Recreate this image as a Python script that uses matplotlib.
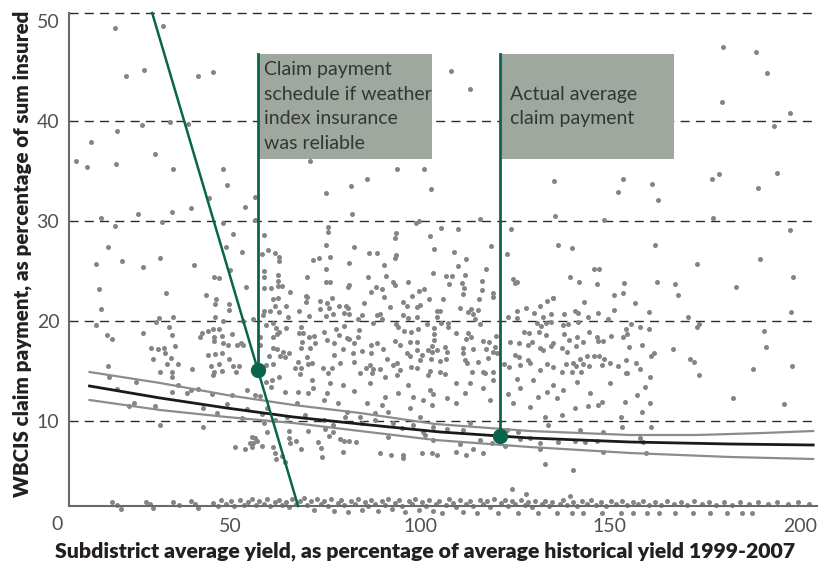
import matplotlib.pyplot as plt
from matplotlib.patches import Rectangle

# scattered subdistrict observations (yield %, claim %)
cloud = [
    (19.7,49.3),(32.3,49.5),(22.6,44.5),(27.4,45.1),(41.6,44.5),(45.4,44.9),(108.2,45.0),(113.2,43.2),
    (26.8,39.6),(34.2,39.9),(38.9,39.7),(20.2,39.0),(13.4,37.9),(30.2,36.7),(9.5,36.0),(12.4,35.4),
    (20.0,35.7),(35.1,35.2),(48.1,35.2),(71.0,36.0),(93.9,35.2),(101.0,35.2),(49.1,33.6),(44.5,32.3),
    (56.6,32.4),(179.8,47.4),(188.4,46.9),(191.3,44.8),(179.5,41.9),(197.5,40.8),(193.2,39.5),(135.3,34.0),
    (153.4,34.2),(152.1,32.9),(161.0,33.7),(176.8,34.2),(178.7,34.7),(194.0,34.8),(189.0,33.3),
    (53.8,31.4),(39.7,31.3),(34.7,30.9),(25.7,30.7),(15.9,30.3),(19.6,29.5),(32.1,29.9),(48.1,29.8),
    (56.6,30.1),(50.9,28.7),(58.9,28.6),(17.8,27.4),(48.8,27.4),(53.1,26.9),(58.4,26.7),(60.0,27.1),
    (61.8,26.8),(63.0,26.4),(63.0,26.0),(14.7,25.7),(21.6,26.0),(27.0,25.4),(31.6,26.3),(40.6,25.6),
    (50.0,25.1),(58.8,25.0),(58.8,24.4),(45.9,24.4),(47.0,24.3),(62.5,24.6),(62.5,24.0),(70.2,24.4),
    (15.4,23.2),(33.2,22.8),(54.2,23.4),(58.9,23.3),(60.8,23.3),(62.5,23.5),(63.6,23.5),(65.8,22.9),
    (43.7,22.6),(46.3,22.2),(46.1,21.7),(49.8,21.7),(61.4,22.2),(62.5,22.3),(70.2,22.4),(15.9,21.2),
    (49.8,21.1),(58.8,21.0),(60.5,21.0),(61.8,21.5),(63.0,20.9),(64.7,21.5),(68.2,21.0),(70.0,21.9),
    (46.1,20.4),(48.1,20.0),(53.3,20.0),(56.0,20.2),(58.6,20.6),(65.3,20.4),(31.4,20.3),(34.9,20.4),
    (30.4,19.9),(14.6,19.6),(34.0,19.4),(59.5,19.6),(61.4,19.8),(62.1,19.3),(64.6,19.3),(68.6,19.4),
    (45.6,19.2),(47.1,19.2),(44.3,19.0),(42.5,18.8),(63.0,18.9),(27.2,18.8),(50.6,18.7),(62.3,18.7),
    (68.2,18.8),(17.6,18.6),(34.6,18.6),(42.1,18.4),(45.9,18.4),(47.8,18.5),(57.9,18.4),(61.4,18.4),
    (19.0,18.2),(45.8,18.0),(48.1,17.8),(49.4,17.6),(51.8,17.6),(52.9,17.8),(53.3,17.6),(57.9,17.6),
    (35.5,17.5),(68.9,17.9),(70.9,18.4),(29.2,17.3),(31.1,17.2),(32.7,17.3),(32.9,16.8),(61.2,17.3),
    (62.3,17.2),(63.9,16.9),(65.6,16.8),(68.6,17.3),(29.6,16.2),(34.5,16.3),(44.3,16.6),(46.1,16.7),
    (47.8,16.8),(49.8,16.2),(60.3,16.5),(63.2,16.5),(64.5,16.4),(17.8,15.5),(33.3,15.7),(36.4,15.7),
    (45.0,15.5),(47.2,15.7),(50.7,15.5),(52.4,15.5),(59.5,15.6),(61.4,15.7),(68.0,15.9),(70.6,15.7),
    (31.6,14.9),(34.8,14.9),(40.1,15.2),(45.8,14.9),(47.8,15.0),(51.5,14.9),(67.1,15.3),(68.7,15.3),
    (75.3,32.8),(81.8,33.5),(86.0,34.2),(102.8,33.2),(82.0,30.7),(115.8,30.2),(98.9,29.8),(99.8,30.0),
    (75.7,29.4),(75.7,28.9),(93.7,28.8),(93.4,28.3),(105.6,29.3),(110.0,29.2),(102.6,28.5),(75.3,27.6),
    (82.7,27.4),(118.7,27.5),(103.8,27.2),(86.7,26.8),(88.6,26.8),(108.9,26.9),(76.3,26.4),(71.9,26.1),
    (73.4,26.3),(93.6,26.6),(93.4,26.3),(112.1,26.2),(81.4,25.8),(90.4,25.6),(109.9,25.5),(75.2,25.2),
    (117.5,25.2),(103.3,24.8),(86.2,24.4),(91.0,24.5),(106.8,24.5),(108.4,24.5),(111.8,24.6),(75.3,23.9),
    (76.3,23.9),(81.3,23.6),(81.0,23.4),(93.0,23.9),(93.4,23.6),(96.9,23.9),(107.5,23.7),(111.1,23.8),
    (111.7,23.3),(116.2,24.0),(88.4,23.4),(89.9,23.2),(87.1,22.9),(99.7,23.0),(101.1,23.2),(97.9,22.5),
    (111.2,22.7),(116.2,23.1),(119.3,22.8),(119.3,22.4),(69.9,22.5),(76.8,22.3),(90.6,22.4),(102.4,22.2),
    (106.0,22.2),(115.5,22.2),(73.7,22.0),(75.4,21.8),(78.7,21.5),(80.4,21.5),(85.3,21.8),(95.4,21.9),
    (96.5,21.5),(99.1,21.4),(100.0,21.6),(92.1,21.4),(110.5,21.3),(113.3,21.2),(115.3,21.1),(73.7,21.2),
    (76.1,21.3),(81.0,21.3),(80.0,20.8),(81.3,20.7),(77.2,20.7),(75.3,20.5),(70.9,20.5),(84.7,20.6),
    (88.8,20.6),(89.5,20.7),(89.9,20.2),(95.4,20.6),(96.9,20.3),(99.1,20.4),(104.6,21.0),(105.3,21.0),
    (104.4,20.4),(112.7,20.9),(113.9,20.7),(83.6,20.2),(93.7,19.7),(94.1,19.4),(87.7,19.8),(80.1,19.5),
    (77.9,19.2),(84.0,19.1),(95.9,19.0),(97.6,18.9),(99.6,19.2),(101.8,19.7),(103.8,19.3),(105.5,19.8),
    (107.3,19.8),(107.3,19.4),(114.5,20.2),(115.8,19.7),(109.5,18.8),(112.7,18.8),(113.3,18.4),(112.1,18.2),
    (120.0,18.5),(69.1,18.8),(72.2,18.5),(74.6,18.9),(75.4,18.1),(78.8,18.6),(80.7,18.3),(81.4,18.2),
    (83.6,18.4),(93.4,18.0),(97.4,17.9),(99.3,17.9),(103.8,18.7),(103.8,18.1),(116.7,18.0),(118.2,17.9),
    (72.4,17.8),(77.4,17.8),(82.7,17.8),(88.6,17.8),(87.1,17.6),(94.7,17.6),(103.1,17.5),(106.6,17.4),
    (111.2,17.3),(71.1,17.3),(79.6,17.2),(84.8,17.0),(90.2,17.2),(99.1,17.1),(102.2,17.1),(104.4,17.1),
    (114.0,17.2),(117.5,17.2),(119.7,17.4),(77.4,16.6),(82.3,16.8),(87.1,16.8),(96.5,16.8),(97.4,16.5),
    (100.4,16.6),(103.1,16.9),(107.0,16.9),(111.2,16.8),(119.3,16.9),(120.2,16.8),(70.2,16.4),(71.5,15.8),
    (74.4,15.3),(76.8,15.3),(78.9,15.8),(82.5,15.9),(85.8,15.3),(86.8,15.6),(87.5,15.2),(91.4,16.2),
    (92.8,15.6),(93.9,15.8),(97.6,15.4),(100.0,16.1),(102.8,16.2),(105.3,16.0),(106.8,16.2),(111.8,16.1),
    (112.3,15.8),(115.3,15.9),(118.0,16.3),(89.5,15.2),(94.7,15.1),(99.1,15.3),(102.6,15.0),(105.3,14.9),
    (113.6,14.9),(116.5,14.9),(119.3,14.9),
    (122.8,26.7),(123.9,29.2),(135.5,30.5),(136.2,27.6),(124.6,24.2),(125.6,23.9),(125.0,23.8),(125.4,21.0),
    (127.9,21.3),(131.6,21.5),(133.3,22.0),(135.1,22.3),(123.1,20.4),(125.4,20.3),(130.1,20.8),(132.5,20.4),
    (134.4,20.7),(130.7,19.8),(131.8,19.5),(133.1,19.8),(134.4,19.9),(127.4,18.9),(128.8,18.8),(131.3,18.9),
    (133.1,18.6),(123.7,17.9),(126.1,17.8),(128.3,17.6),(129.4,17.9),(131.6,17.3),(132.5,17.1),(134.4,17.5),
    (125.0,16.6),(126.1,16.4),(128.5,16.1),(128.9,15.8),(122.2,15.7),(123.5,15.4),(126.3,15.6),(131.6,15.1),
    (133.3,15.7),(135.1,15.4),
    (162.7,32.1),(148.5,30.1),(177.1,30.3),(197.4,29.1),(139.9,27.3),(161.8,27.6),(173.0,25.7),(189.6,26.2),
    (145.9,25.2),(147.2,25.2),(139.6,24.4),(141.9,23.9),(146.5,23.7),(153.7,23.8),(162.4,23.9),(167.1,23.7),
    (167.8,22.6),(183.2,23.4),(198.3,24.4),(151.0,22.6),(153.5,22.8),(135.0,22.3),(143.1,21.9),(156.6,21.8),
    (137.9,20.7),(140.8,21.0),(141.7,20.8),(144.1,20.4),(146.9,20.8),(151.1,21.1),(160.3,20.9),(170.6,20.4),
    (197.6,20.9),(149.4,20.2),(141.5,19.9),(137.7,19.6),(139.0,19.7),(155.6,19.7),(157.9,19.4),(160.4,19.2),
    (173.4,19.7),(173.0,19.4),(154.2,19.2),(190.6,19.0),(144.6,18.9),(137.9,18.7),(141.2,18.4),(146.5,18.4),
    (150.3,18.5),(153.4,18.4),(154.6,18.7),(146.8,18.0),(148.2,18.0),(143.0,17.9),(139.2,18.1),(135.1,17.8),
    (141.1,17.5),(137.5,17.3),(138.8,16.9),(155.1,17.4),(158.4,17.6),(166.7,17.2),(191.1,17.4),(160.8,16.5),
    (161.7,16.8),(142.2,16.2),(144.0,16.5),(145.8,16.5),(147.2,16.5),(148.5,16.2),(154.2,16.1),(171.2,16.2),
    (172.1,15.9),(138.4,15.7),(140.2,15.8),(141.1,15.5),(142.8,15.7),(144.6,15.5),(147.8,15.6),(150.1,15.8),
    (152.2,15.5),(156.8,15.8),(157.9,15.2),(137.3,14.9),(140.1,14.9),(142.5,14.9),(154.2,14.8),(187.7,15.2),
    (197.8,15.5),
    (18.2,14.4),(25.3,13.9),(34.8,14.4),(36.2,13.6),(34.7,12.9),(38.6,12.8),(39.7,13.1),(41.5,13.2),
    (20.2,13.2),(45.2,12.7),(24.7,11.8),(23.5,11.5),(30.3,11.5),(43.0,11.3),(46.5,10.8),(49.1,11.7),
    (50.4,12.6),(53.1,10.3),(54.4,11.2),(31.6,9.6),(43.0,9.4),(51.3,7.4),(53.9,7.2),(55.3,7.8),
    (55.7,8.4),(56.6,8.3),(57.0,8.0),(56.1,7.8),(58.3,7.5),(55.7,7.4),(58.9,9.8),(59.6,8.9),
    (61.4,7.4),(61.8,6.8),(62.1,6.2),(63.6,6.5),(64.5,5.9),(65.6,8.3),(65.8,7.8),(67.4,8.0),
    (65.6,9.0),(68.6,7.2),(70.6,9.0),(73.2,7.9),(73.9,7.3),(74.1,6.4),(76.1,8.5),(78.9,8.2),
    (80.1,8.0),(81.4,8.0),(83.2,7.9),(79.8,6.9),(89.5,6.8),(92.4,6.6),(95.6,6.6),(95.6,6.3),
    (100.4,6.8),(103.1,6.8),(75.0,9.2),(77.0,8.9),(91.7,8.4),(101.3,8.6),(103.5,8.1),(54.4,13.1),
    (56.6,12.6),(57.9,12.5),(59.5,13.9),(61.0,14.1),(58.3,10.7),(59.8,11.3),(60.7,13.4),(63.0,14.4),
    (64.5,12.9),(67.5,11.8),(68.0,12.9),(69.7,10.6),(70.6,12.8),(71.5,14.1),(71.9,13.3),(74.6,12.1),
    (75.4,12.8),(76.3,13.8),(78.5,11.8),(79.8,13.6),(80.7,10.9),(82.6,13.0),(84.2,10.4),(86.0,11.8),
    (86.8,13.8),(88.2,10.8),(89.9,11.6),(90.8,12.4),(91.7,10.9),(93.0,9.8),(94.3,12.8),(96.9,13.6),
    (97.4,11.3),(98.2,12.4),(100.0,10.4),(100.9,12.1),(102.6,13.1),(103.1,11.6),(84.2,14.8),(87.3,14.8),
    (90.8,14.4),(93.9,14.6),(102.2,14.6),(68.4,14.7),(75.9,14.8),(45.6,14.6),(61.8,10.1),(64.9,10.4),
    (74.6,10.1),(77.2,9.6),(80.3,10.4),(84.6,9.8),(88.2,10.1),(95.2,9.3),(98.2,9.6),(100.9,8.9),
    (103.5,9.4),
    (106.6,14.7),(109.5,13.8),(103.5,12.7),(107.0,12.3),(109.6,11.8),(111.8,12.8),(113.2,13.8),(116.5,13.3),
    (117.1,14.8),(118.4,12.1),(119.3,14.1),(123.2,12.7),(124.6,11.8),(125.4,14.2),(126.3,13.3),(128.9,11.4),
    (129.8,14.1),(131.1,12.4),(132.9,10.4),(133.3,12.9),(135.1,13.6),(136.0,12.3),(137.3,10.6),(137.7,13.1),
    (140.8,11.3),(141.2,13.9),(144.3,11.5),(144.7,12.8),(146.9,11.6),(147.8,11.9),(150.0,13.8),(153.1,9.4),
    (152.9,10.4),(153.9,11.9),(157.0,12.6),(158.5,10.9),(159.2,13.4),(160.5,11.8),(160.7,9.4),(182.5,12.3),
    (195.9,11.7),(173.5,14.6),(154.4,14.8),(160.5,14.4),(104.4,6.6),(109.6,6.9),(112.1,6.6),(116.7,6.8),
    (114.0,7.2),(110.5,7.7),(115.8,8.1),(118.9,7.8),(122.4,7.5),(125.9,8.9),(126.3,8.2),(128.9,8.3),
    (131.6,7.8),(131.6,7.2),(136.4,7.9),(140.8,8.0),(143.4,7.9),(146.5,8.0),(148.2,8.9),(148.1,6.9),
    (157.9,8.3),(158.8,7.9),(159.6,6.8),(132.9,5.7),(140.4,5.1),(107.0,9.2),(111.4,9.1),(113.2,9.8),
    (122.8,9.1),(133.8,9.6),(142.1,9.1),(124.1,3.2),(127.8,2.7),(139.5,2.5),
]

# zero-claim subdistricts piled up along the x axis
floor = [
    (18.8,1.9),(20.3,1.6),(21.2,1.2),(27.8,1.9),(29.0,1.7),(29.8,1.3),(35.0,1.9),(36.5,1.6),(39.6,2.0),
    (40.7,1.7),(41.5,1.3),(45.4,1.8),(46.7,1.5),(47.6,2.1),(48.9,1.7),(50.2,2.0),(51.0,1.5),(52.7,2.1),
    (53.6,1.6),(54.8,1.9),(55.9,2.2),(56.8,1.6),(57.7,2.0),(58.9,1.7),(59.8,2.2),(60.6,1.5),(61.7,1.9),
    (62.8,2.1),(63.6,1.6),(64.7,1.9),(65.5,1.4),(66.4,2.2),(67.3,1.7),(68.5,2.0),(69.4,2.3),(70.3,1.6),
    (71.3,2.0),(72.2,1.1),(73.0,2.2),(73.9,1.7),(74.8,2.0),(75.7,1.5),(76.6,2.2),(77.4,1.0),(78.3,1.8),
    (79.2,2.1),(80.1,1.6),(81.0,0.9),(81.9,2.0),(82.8,1.7),(83.7,2.2),(84.6,1.1),(85.4,1.9),(86.3,1.5),
    (87.2,2.1),(88.1,1.7),(89.0,1.0),(89.9,2.0),(90.8,1.6),(91.7,2.2),(92.6,1.2),(93.5,1.8),(94.4,2.1),
    (95.2,1.5),(96.1,0.9),(97.0,2.0),(97.9,1.7),(98.8,2.2),(99.7,1.1),(100.6,1.9),(101.5,1.5),(102.4,2.1),
    (103.3,1.0),(104.2,1.7),(105.0,2.0),(105.9,0.8),(106.8,1.6),(107.7,2.2),(108.6,1.8),(109.5,1.4),
    (110.4,2.1),(111.3,0.9),(112.2,1.7),(113.1,2.0),(114.0,1.5),(114.9,0.8),(115.8,2.1),(116.7,1.7),
    (117.6,2.0),(118.5,1.4),(119.4,2.2),(120.5,0.8),(121.4,1.8),(122.3,2.1),(123.2,1.5),(124.1,2.0),
    (125.0,1.7),(125.8,0.8),(126.7,2.1),(127.6,1.6),(128.5,1.9),(129.4,1.4),(130.3,2.0),(131.0,0.8),
    (132.1,1.7),(133.0,2.0),(133.9,1.5),(134.8,1.9),(136.0,0.8),(136.8,1.7),(137.7,2.1),(138.8,1.6),
    (140.0,0.8),(140.3,1.9),(141.4,1.5),(142.6,2.0),(143.0,0.8),(143.9,1.7),(145.0,2.1),(146.3,1.6),
    (147.6,1.9),(148.0,0.8),(149.0,1.5),(150.3,2.0),(151.6,1.7),(153.0,0.8),(153.1,2.0),(154.5,1.6),
    (156.0,0.8),(156.0,1.9),(157.4,1.7),(158.8,2.0),(159.7,0.8),(160.3,1.6),(161.9,1.9),(163.0,0.8),
    (163.5,1.6),(165.1,2.0),(167.0,0.8),(166.8,1.7),(168.6,1.9),(170.4,1.6),(171.8,0.8),(172.2,2.0),
    (174.1,1.7),(176.0,1.9),(176.3,0.8),(178.0,1.6),(180.0,1.9),(180.8,0.8),(182.0,1.6),(184.2,1.9),
    (184.7,0.8),(186.5,1.7),(187.4,0.8),(189.0,1.9),(191.5,1.7),(194.0,1.9),(196.8,1.7),(199.5,1.9),
    (202.3,1.7),
]

# fitted average claim and its confidence band
fit_x = [13, 31.6, 49.1, 66.7, 84.2, 105.3, 128.9, 155.3, 181.6, 203.5]
fit_mid = [13.5, 12.3, 11.3, 10.4, 9.7, 8.9, 8.3, 7.9, 7.7, 7.6]
band_x = [13, 31.6, 49.1, 66.7, 84.2, 104, 128.9, 155.3, 172.8, 190.4, 203.5]
band_hi = [14.9, 13.8, 12.6, 11.6, 10.8, 9.7, 9.0, 8.6, 8.6, 8.8, 9.0]
band_lo_x = [13, 31.6, 49.1, 66.7, 84.2, 104, 128.9, 155.3, 181.6, 203.5]
band_lo = [12.1, 11.1, 10.4, 9.8, 9.0, 8.1, 7.4, 6.8, 6.4, 6.2]

# reliable-index schedule and the two marked points
sched_x = [29.5, 67.9]
sched_y = [50.8, 1.5]
mark_x = [57.4, 121.0]
mark_y = [15.1, 8.5]
notes = ["Claim payment\nschedule if weather\nindex insurance\nwas reliable",
         "Actual average\nclaim payment"]

GREEN = '#0b654e'
YMIN, YMAX = 1.53, 50.8
BOX_TOP, BOX_BOT = 46.7, 36.2
BOX_W = [45.7, 45.8]
TXT_PAD = [1.6, 2.6]

fig = plt.figure(figsize=(8.19, 5.67), dpi=100)
ax = fig.add_axes([69/819, 61.3/567, 748/819, 492.7/567])
ax.set_xlim(7.6, 204.5)
ax.set_ylim(YMIN, YMAX)

for yy in [10, 20, 30, 40, YMAX]:
    ax.axhline(yy, color='#2b2b2b', lw=1.0, ls=(0, (6.5, 4.5)), zorder=1, clip_on=False)

cx = [p[0] for p in cloud]
cy = [p[1] for p in cloud]
fx = [p[0] for p in floor]
fy = [p[1] for p in floor]
ax.scatter(cx, cy, s=13, color='#858585', lw=0, zorder=2, clip_on=False)
ax.scatter(fx, fy, s=13, color='#858585', lw=0, zorder=2, clip_on=False)

ax.plot(band_x, band_hi, color='#8c8c8c', lw=1.6, zorder=3)
ax.plot(band_lo_x, band_lo, color='#8c8c8c', lw=1.6, zorder=3)
ax.plot(fit_x, fit_mid, color='#1a1a1a', lw=2.0, zorder=3)

ax.plot(sched_x, sched_y, color=GREEN, lw=1.8, zorder=5, clip_on=False)

for mx, my, txt, w, pad in zip(mark_x, mark_y, notes, BOX_W, TXT_PAD):
    ax.add_patch(Rectangle((mx, BOX_BOT), w, BOX_TOP - BOX_BOT, facecolor='#9ea89f',
                           edgecolor='none', zorder=4))
    ax.plot([mx, mx], [BOX_TOP, my], color=GREEN, lw=2.0, zorder=5)
    ax.plot(mx, my, 'o', color=GREEN, ms=10, zorder=6)
    ax.text(mx + pad, (BOX_TOP + BOX_BOT) / 2, txt, ha='left', va='center', fontsize=14,
            family='Lato', color='#353535', linespacing=1.55, zorder=6)

ax.spines['top'].set_visible(False)
ax.spines['right'].set_visible(False)
for s in ['left', 'bottom']:
    ax.spines[s].set_color('#6a6a6a')
    ax.spines[s].set_linewidth(1.5)

ax.set_xticks([50, 100, 150, 200])
ax.set_yticks([10, 20, 30, 40, 50])
ax.tick_params(length=0, labelsize=14, labelcolor='#505050')
ax.tick_params(axis='x', pad=9)
ax.tick_params(axis='y', pad=7)
for lab in ax.get_xticklabels() + ax.get_yticklabels():
    lab.set_family('Lato')
fig.text(57/819, 1 - 524/567, '0', ha='center', va='center', fontsize=14,
         family='Lato', color='#505050')

fig.text(22/819, 1 - 254/567, 'WBCIS claim payment, as percentage of sum insured',
         rotation=90, ha='center', va='center', fontsize=14.8, weight='heavy',
         family='Lato', color='#231f20')
fig.text(425/819, 1 - 551/567,
         'Subdistrict average yield, as percentage of average historical yield 1999-2007',
         ha='center', va='center', fontsize=15.3, weight='heavy', family='Lato', color='#231f20')

fig.savefig('out.png', dpi=100)
